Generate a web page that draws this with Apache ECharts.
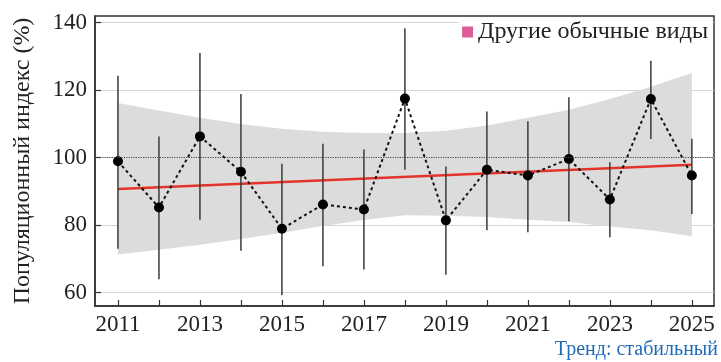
<!DOCTYPE html>
<html>
<head>
<meta charset="utf-8">
<script src="https://cdn.jsdelivr.net/npm/echarts@6/dist/echarts.min.js"></script>
<style>
  html, body { margin: 0; padding: 0; background: #fff; }
  #chart { width: 721px; height: 362px; }
</style>
</head>
<body>
<div id="chart"></div>
<script>
const years = [2011, 2012, 2013, 2014, 2015, 2016, 2017, 2018, 2019, 2020, 2021, 2022, 2023, 2024, 2025]
const indexValues = [98.9, 85.2, 106.3, 95.8, 78.9, 86.1, 84.6, 117.5, 81.4, 96.4, 94.7, 99.6, 87.6, 117.4, 94.7]
const errLow = [73.0, 63.9, 81.6, 72.4, 59.2, 67.8, 66.8, 96.4, 65.3, 78.5, 77.9, 81.1, 76.4, 105.5, 83.3]
const errHigh = [124.3, 106.3, 131.0, 118.9, 98.2, 104.1, 102.4, 138.4, 97.4, 113.7, 110.8, 117.9, 98.6, 128.7, 105.6]
const bandLow = [71.3, 72.7, 74.2, 75.9, 77.7, 79.7, 81.5, 82.9, 82.8, 82.4, 81.6, 80.9, 79.6, 78.5, 76.7]
const bandHigh = [116.2, 114.0, 111.8, 110.0, 108.6, 107.7, 107.3, 107.3, 108.0, 109.5, 111.8, 114.2, 117.4, 121.0, 125.1]
const trendStart = 90.7
const trendEnd = 97.9
const yTicks = [60, 80, 100, 120, 140]
const xTickLabels = [2011, 2013, 2015, 2017, 2019, 2021, 2023, 2025]
const legendName = 'Другие обычные виды'

const font = 'Liberation Serif'
const chart = echarts.init(document.getElementById('chart'))

// confidence band: upper edge left to right, then lower edge back
function renderBand(params, api) {
  const pts = []
  for (let i = 0; i < years.length; i++) pts.push(api.coord([years[i], bandHigh[i]]))
  for (let i = years.length - 1; i >= 0; i--) pts.push(api.coord([years[i], bandLow[i]]))
  return {
    type: 'polygon',
    shape: { points: pts },
    style: { fill: '#dcdcdc' }
  }
}

chart.setOption({
  animation: false,
  title: {
    text: 'Тренд: стабильный',
    right: -2,
    bottom: -3,
    textStyle: { fontFamily: font, fontSize: 20, fontWeight: 'normal', color: '#1f6bb8' }
  },
  legend: {
    data: [legendName],
    right: 9,
    top: 18,
    icon: 'rect',
    itemWidth: 11,
    itemHeight: 11,
    itemGap: 6,
    backgroundColor: '#fff',
    padding: [2, 4, 2, 4],
    textStyle: { fontFamily: font, fontSize: 24, color: '#222' }
  },
  grid: {
    left: 95,
    right: 7,
    top: 16,
    bottom: 56,
    show: true,
    borderColor: '#333',
    borderWidth: 1.5
  },
  xAxis: {
    type: 'value',
    min: 2010.44,
    max: 2025.54,
    axisLine: { lineStyle: { color: '#333', width: 1.5 } },
    axisTick: { inside: true, length: 6, customValues: years, lineStyle: { color: '#333', width: 1.2 } },
    axisLabel: {
      customValues: xTickLabels,
      fontFamily: font,
      fontSize: 23,
      color: '#222',
      margin: 7,
      formatter: v => String(v)
    },
    splitLine: { show: false }
  },
  yAxis: {
    type: 'value',
    min: 56,
    max: 142,
    name: 'Популяционный индекс (%)',
    nameLocation: 'middle',
    nameGap: 60,
    nameTextStyle: { fontFamily: font, fontSize: 24, color: '#222' },
    axisLine: { show: true, lineStyle: { color: '#333', width: 1.5 } },
    axisTick: { show: true, inside: true, length: 6, customValues: yTicks, lineStyle: { color: '#333', width: 1.2 } },
    axisLabel: { customValues: yTicks, fontFamily: font, fontSize: 23, color: '#222', margin: 8 },
    splitLine: { show: true, lineStyle: { color: '#d4d4d4', width: 1 } }
  },
  series: [
    {
      type: 'custom',
      data: [[years[0], bandLow[0]]],
      renderItem: renderBand,
      silent: true,
      z: 1,
      markLine: {
        silent: true,
        symbol: 'none',
        label: { show: false },
        lineStyle: { color: '#444', type: 'dotted', width: 1.2 },
        data: [{ yAxis: 100 }]
      }
    },
    {
      type: 'line',
      data: [[years[0], trendStart], [years[years.length - 1], trendEnd]],
      symbol: 'none',
      lineStyle: { color: '#e3342b', width: 2.5 },
      z: 2
    },
    {
      type: 'custom',
      data: years.map((y, i) => [y, errLow[i], errHigh[i]]),
      renderItem: (params, api) => {
        const p1 = api.coord([api.value(0), api.value(1)])
        const p2 = api.coord([api.value(0), api.value(2)])
        return {
          type: 'line',
          shape: { x1: p1[0], y1: p1[1], x2: p2[0], y2: p2[1] },
          style: { stroke: '#3a3a3a', lineWidth: 1.5 }
        }
      },
      encode: { x: 0, y: [1, 2] },
      z: 3
    },
    {
      type: 'line',
      data: years.map((y, i) => [y, indexValues[i]]),
      symbol: 'circle',
      symbolSize: 10,
      itemStyle: { color: '#000' },
      lineStyle: { color: '#111', width: 2, type: [3, 3] },
      z: 4
    },
    {
      name: legendName,
      type: 'scatter',
      data: [],
      itemStyle: { color: '#d6347f' }
    }
  ]
})
</script>
</body>
</html>
